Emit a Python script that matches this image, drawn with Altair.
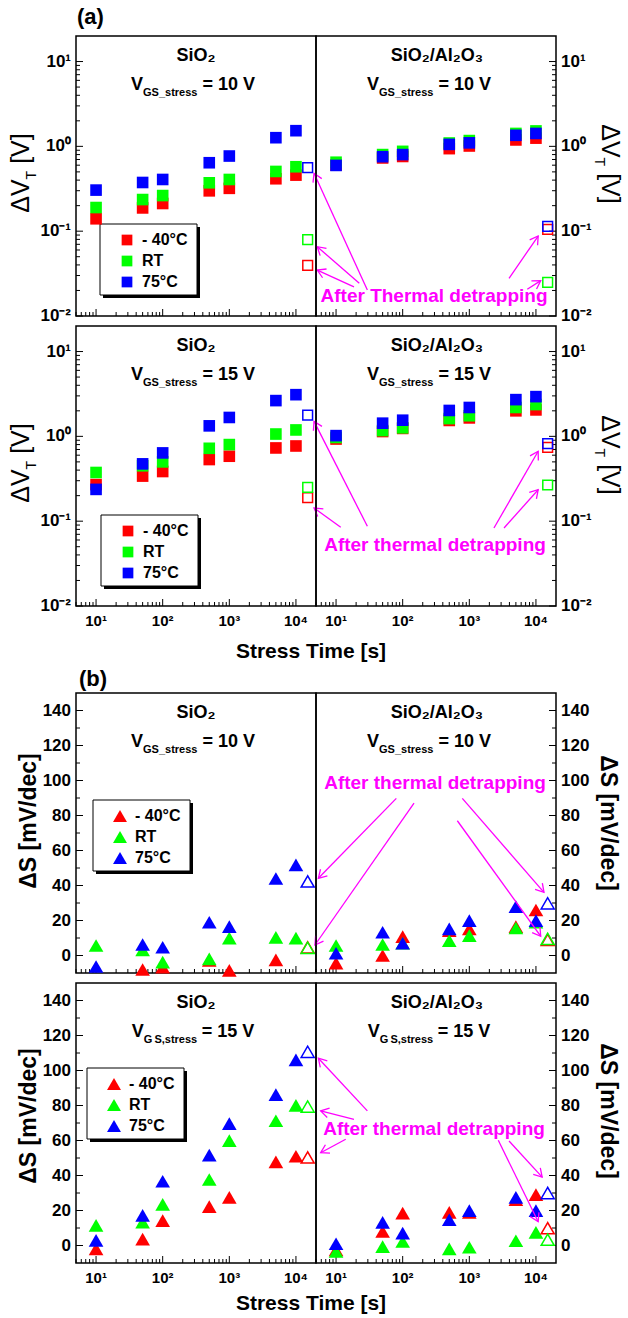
import math
import altair as alt
import pandas as pd

FONT = "Liberation Sans"
MAGENTA = "#FF00FF"

TEMPS = ["- 40°C", "RT", "75°C"]
COLORS = ["#FF0000", "#00FF00", "#0000FF"]
TIMES = [10, 50, 100, 500, 1000, 5000, 10000]
T_AFTER = 15000

# ---- (a) delta VT [V] ----
dvt_sio2_10_m40 = [0.14, 0.188, 0.212, 0.299, 0.32, 0.415, 0.458]
dvt_sio2_10_rt = [0.19, 0.236, 0.263, 0.372, 0.407, 0.506, 0.575]
dvt_sio2_10_75 = [0.305, 0.375, 0.407, 0.641, 0.769, 1.265, 1.53]
dvt_sio2_10_after = [0.0395, 0.0795, 0.56]

dvt_al_10_m40 = [0.6, 0.73, 0.76, 0.94, 1.01, 1.19, 1.25]
dvt_al_10_rt = [0.65, 0.80, 0.873, 1.095, 1.17, 1.42, 1.52]
dvt_al_10_75 = [0.596, 0.755, 0.80, 1.055, 1.10, 1.35, 1.42]
dvt_al_10_after = [0.105, 0.0249, 0.114]

dvt_sio2_15_m40 = [0.27, 0.34, 0.385, 0.533, 0.583, 0.73, 0.77]
dvt_sio2_15_rt = [0.375, 0.45, 0.50, 0.723, 0.80, 1.065, 1.19]
dvt_sio2_15_75 = [0.237, 0.474, 0.638, 1.33, 1.67, 2.64, 3.1]
dvt_sio2_15_after = [0.19, 0.25, 1.78]

dvt_al_15_m40 = [0.93, 1.14, 1.24, 1.54, 1.65, 2.0, 2.05]
dvt_al_15_rt = [0.97, 1.17, 1.26, 1.62, 1.75, 2.19, 2.37]
dvt_al_15_75 = [1.02, 1.43, 1.55, 2.02, 2.19, 2.71, 2.94]
dvt_al_15_after = [0.74, 0.267, 0.82]

# ---- (b) delta S [mV/dec] ----
ds_sio2_10_m40 = [None, -8, -6.6, -2.8, -8.5, -2.5, None]
ds_sio2_10_rt = [5.7, 3.2, -3.8, -1.9, 9.9, 10.4, 9.9]
ds_sio2_10_75 = [-6.3, 6.3, 4.7, 19, 16.5, 44, 51.8]
ds_sio2_10_after = [4.7, 4.4, 42.3]

ds_al_10_m40 = [-4.4, 0, 10.8, 14.2, 15.2, 16.5, 26]
ds_al_10_rt = [5.7, 6.3, 7.0, 8.5, 11.4, 15.7, 19]
ds_al_10_75 = [1.3, 13.3, 7.0, 15.2, 19.9, 27.9, 19.9]
ds_al_10_after = [8.9, 9.5, 29.8]

ds_sio2_15_m40 = [-1.9, 3.6, 14.2, 22.2, 27.5, 47.8, 51]
ds_sio2_15_rt = [11.5, 13.4, 23.5, 37.7, 59.9, 71.3, 80.1]
ds_sio2_15_75 = [2.9, 17.2, 36.7, 51.6, 69.6, 86.2, 106.1]
ds_sio2_15_after = [50.3, 79.4, 110.7]

ds_al_15_m40 = [-2.5, 8, 18.5, 18.9, 18.9, 26.2, 29.1]
ds_al_15_rt = [-3.4, -0.6, 2.3, -1.9, -1, 2.7, 7.5]
ds_al_15_75 = [1, 13.2, 7.1, 14.7, 19.9, 27.5, 19.9]
ds_al_15_after = [9.9, 3.3, 30]

# annotation arrows (tail x, tail y, head x, head y) in each panel's data units
arrows_a1_left = [(1.18e5, 0.0202, 1.87e4, 0.481), (8.93e4, 0.0243, 2.09e4, 0.0656), (7.43e4, 0.0221, 2.09e4, 0.0348)]
arrows_a1_right = [(3945, 0.0278, 1.08e4, 0.0877), (7413, 0.0207, 1.18e4, 0.0261)]
arrows_a2_left = [(1.18e5, 0.0871, 1.87e4, 1.50), (4.7e4, 0.0847, 1.87e4, 0.143)]
arrows_a2_right = [(2344, 0.083, 1.08e4, 0.667), (3319, 0.083, 1.08e4, 0.235)]
arrows_b1_left = [(3.21e5, 89.8, 2.17e4, 44.1), (5.92e5, 87.1, 1.93e4, 6.0)]
arrows_b1_right = [(785, 89.8, 1.32e4, 36.1), (661, 77, 1.18e4, 11)]
arrows_b2_left = [(1.18e5, 76.9, 2.17e4, 107), (7.43e4, 72.1, 2.35e4, 76.9), (5.58e4, 60.7, 2.35e4, 53)]
arrows_b2_right = [(3945, 59.7, 1.24e4, 39.1), (2722, 60.1, 1.08e4, 13.6)]

# axis ticks and tick labels
X_MAJ = [10, 100, 1000, 10000]
X_MAJ_LABELS = ["10¹", "10²", "10³", "10⁴"]
X_MIN = [5, 6, 7, 8, 9] + [k * 10 ** e for e in (1, 2, 3) for k in range(2, 10)]
YLOG_MAJ = [0.01, 0.1, 1, 10]
YLOG_MAJ_LABELS = ["10⁻²", "10⁻¹", "10⁰", "10¹"]
YLOG_MIN = [round(k * 10 ** e, 6) for e in (-2, -1, 0) for k in range(2, 10)]
YLIN_MAJ = list(range(0, 141, 20))
YLIN_MAJ_LABELS = [str(v) for v in YLIN_MAJ]
YLIN_MIN = list(range(10, 131, 20))

W, H = 240, 280
X_DOM = [5, 20000]
YLOG_DOM = [0.01, 20]
YLIN_DOM = [-10, 150]

X_SCALE = alt.Scale(type="log", domain=X_DOM, nice=False)
Y_LOG = alt.Scale(type="log", domain=YLOG_DOM, nice=False)
Y_LIN = alt.Scale(type="linear", domain=YLIN_DOM, nice=False, zero=False)
COLOR_SCALE = alt.Scale(domain=TEMPS, range=COLORS)


def px_x(v):
    return (math.log10(v) - math.log10(X_DOM[0])) / (math.log10(X_DOM[1]) - math.log10(X_DOM[0])) * W


def py_log(v):
    return (math.log10(YLOG_DOM[1]) - math.log10(v)) / (math.log10(YLOG_DOM[1]) - math.log10(YLOG_DOM[0])) * H


def py_lin(v):
    return (YLIN_DOM[1] - v) / (YLIN_DOM[1] - YLIN_DOM[0]) * H


ONE = pd.DataFrame({"k": [0]})

BOLD_W = {" ": 278, "=": 584, "V": 667, "G": 778, "S": 667, "_": 556, "s": 556,
          "t": 333, "r": 389, "e": 556, ",": 278, "\u2009": 167}
REG_W = {"Δ": 667, "V": 667, "T": 611, " ": 278, "[": 278, "]": 278}


def wb(s, size):
    return sum(BOLD_W.get(c, 556) for c in s) / 1000 * size


def wr(s, size):
    return sum(REG_W.get(c, 556) for c in s) / 1000 * size


def txt(s, x, y, size, weight="bold", color="black", align="left", angle=0, baseline="alphabetic"):
    return alt.Chart(ONE).mark_text(text=s, font=FONT, fontSize=size, fontWeight=weight, color=color,
                                    align=align, baseline=baseline, angle=angle).encode(
        x=alt.value(x), y=alt.value(y))


def vgs(cx, base, sub, val):
    gap = 5
    w1, w2, w3 = wb("V", 18), wb(sub, 11), wb(val, 18)
    x0 = cx - (w1 + w2 + gap + w3) / 2
    return [txt("V", x0, base, 18), txt(sub, x0 + w1, base + 6, 11),
            txt(val, x0 + w1 + w2 + gap, base, 18)]


def dvt_title(bx, cy, side):
    pieces = [("ΔV", 25, 0, 0), ("T", 14, 7, 7), ("[V]", 25, 0, 0)]
    widths = [wr(s, f) + g for s, f, _, g in pieces]
    total = sum(widths)
    out = []
    cum = 0
    for (s, f, sh, g), w in zip(pieces, widths):
        if side == "left":
            out.append(txt(s, bx + sh, cy + total / 2 - cum, f, weight="normal", angle=270))
        else:
            out.append(txt(s, bx - sh, cy - total / 2 + cum, f, weight="normal", angle=90))
        cum += w
    return out


def ds_title(bx, cy, side):
    return [txt("ΔS [mV/dec]", bx, cy, 23, align="center", angle=270 if side == "left" else 90)]


def series_df(m40, rt, t75):
    rows = []
    for temp, vals in zip(TEMPS, [m40, rt, t75]):
        for t, v in zip(TIMES, vals):
            if v is not None:
                rows.append({"t": t, "v": v, "temp": temp})
    return pd.DataFrame(rows)


def after_df(vals):
    return pd.DataFrame({"t": [T_AFTER] * 3, "v": vals, "temp": TEMPS})


CHEVRON = "M-2,-1.2L0,0L-2,1.2"


def arrow_layers(arrows, kind):
    py = py_log if kind == "a" else py_lin
    yscale = Y_LOG if kind == "a" else Y_LIN
    rows = []
    for x1, y1, x2, y2 in arrows:
        ang = math.degrees(math.atan2(py(y2) - py(y1), px_x(x2) - px_x(x1))) % 360
        rows.append({"x1": x1, "y1": y1, "x2": x2, "y2": y2, "ang": ang})
    df = pd.DataFrame(rows)
    base = alt.Chart(df)
    line = base.mark_rule(color=MAGENTA, strokeWidth=1.3).encode(
        x=alt.X("x1:Q", scale=X_SCALE, axis=None), y=alt.Y("y1:Q", scale=yscale, axis=None),
        x2="x2:Q", y2="y2:Q")
    head = base.mark_point(shape=CHEVRON, filled=False, color=MAGENTA, strokeWidth=1.3, size=64,
                           opacity=1).encode(
        x=alt.X("x2:Q", scale=X_SCALE, axis=None), y=alt.Y("y2:Q", scale=yscale, axis=None),
        angle=alt.Angle("ang:Q", scale=None))
    return [line, head]


def tick_layers(kind, side, xlabels):
    yscale = Y_LOG if kind == "a" else Y_LIN
    if kind == "a":
        ymaj, ymin, ylab = YLOG_MAJ, YLOG_MIN, YLOG_MAJ_LABELS
    else:
        ymaj, ymin, ylab = YLIN_MAJ, YLIN_MIN, YLIN_MAJ_LABELS
    out = []
    for vals, ln in ((X_MAJ, 7), (X_MIN, 4)):
        out.append(alt.Chart(pd.DataFrame({"tv": vals})).mark_rule(color="black", strokeWidth=1).encode(
            x=alt.X("tv:Q", scale=X_SCALE, axis=None), y=alt.value(H), y2=alt.value(H - ln)))
    for vals, ln in ((ymaj, 7), (ymin, 4)):
        if side == "left":
            xa, xb = 0, ln
        else:
            xa, xb = W, W - ln
        out.append(alt.Chart(pd.DataFrame({"tv": vals})).mark_rule(color="black", strokeWidth=1).encode(
            y=alt.Y("tv:Q", scale=yscale, axis=None), x=alt.value(xa), x2=alt.value(xb)))
    # tick labels drawn through the scales
    out.append(alt.Chart(pd.DataFrame({"tv": ymaj, "lab": ylab})).mark_text(
        font=FONT, fontSize=17, fontWeight="bold", color="black",
        align="right" if side == "left" else "left", baseline="middle").encode(
        y=alt.Y("tv:Q", scale=yscale, axis=None),
        x=alt.value(-5 if side == "left" else W + 5), text="lab:N"))
    if xlabels:
        out.append(alt.Chart(pd.DataFrame({"tv": X_MAJ, "lab": X_MAJ_LABELS})).mark_text(
            font=FONT, fontSize=15, fontWeight="bold", color="black", align="center", baseline="top").encode(
            x=alt.X("tv:Q", scale=X_SCALE, axis=None), y=alt.value(H + 8), text="lab:N"))
    return out


def panel(side, kind, series, after, arrows, texts, legend_box=None, xlabels=False):
    yscale = Y_LOG if kind == "a" else Y_LIN
    shape = "square" if kind == "a" else "triangle-up"
    fsize, osize = (135, 95) if kind == "a" else (215, 170)
    layers = tick_layers(kind, side, xlabels)
    legend = None
    if legend_box is not None:
        bx, by = legend_box
        bw, bh = 97, 71
        layers.append(alt.Chart(ONE).mark_rect(color="black").encode(
            x=alt.value(bx + 3), x2=alt.value(bx + 3 + bw), y=alt.value(by + 3), y2=alt.value(by + 3 + bh)))
        layers.append(alt.Chart(ONE).mark_rect(fill="white", stroke="black", strokeWidth=1).encode(
            x=alt.value(bx), x2=alt.value(bx + bw), y=alt.value(by), y2=alt.value(by + bh)))
        legend = alt.Legend(orient="none", legendX=bx, legendY=by, title=None, symbolType=shape,
                            symbolSize=fsize - 20, padding=8, symbolOffset=11, labelOffset=7,
                            rowPadding=5, labelFont=FONT, labelFontSize=16, labelFontWeight="bold",
                            labelColor="black", symbolStrokeWidth=0, symbolOpacity=1)
    pts = alt.Chart(series_df(*series)).mark_point(shape=shape, filled=True, size=fsize, opacity=1).encode(
        x=alt.X("t:Q", scale=X_SCALE, axis=None),
        y=alt.Y("v:Q", scale=yscale, axis=None),
        color=alt.Color("temp:N", scale=COLOR_SCALE, legend=legend))
    opn = alt.Chart(after_df(after)).mark_point(shape=shape, filled=False, size=osize, strokeWidth=1.5,
                                                opacity=1).encode(
        x=alt.X("t:Q", scale=X_SCALE, axis=None),
        y=alt.Y("v:Q", scale=yscale, axis=None),
        stroke=alt.Stroke("temp:N", scale=COLOR_SCALE, legend=None))
    layers += [pts, opn]
    layers += arrow_layers(arrows, kind)
    layers += texts
    return alt.layer(*layers).properties(width=W, height=H)


def heads(side, volt, sub):
    if side == "left":
        return [txt("SiO₂", 120, 25, 18, align="center")] + vgs(117, 54, sub, "= %d V" % volt)
    return [txt("SiO₂/Al₂O₃", 121, 25, 18, align="center")] + vgs(113, 54, sub, "= %d V" % volt)


# ---- row (a) top ----
a1l = panel("left", "a", (dvt_sio2_10_m40, dvt_sio2_10_rt, dvt_sio2_10_75), dvt_sio2_10_after,
            arrows_a1_left,
            heads("left", 10, "GS_stress") + dvt_title(-47, 137, "left") + [txt("(a)", 1, -12, 22)],
            legend_box=(24, 188))
a1r = panel("right", "a", (dvt_al_10_m40, dvt_al_10_rt, dvt_al_10_75), dvt_al_10_after,
            arrows_a1_right,
            heads("right", 10, "GS_stress") + dvt_title(286, 128, "right")
            + [txt("After Thermal detrapping", 118, 266, 19, color=MAGENTA, align="center")])

# ---- row (a) bottom ----
a2l = panel("left", "a", (dvt_sio2_15_m40, dvt_sio2_15_rt, dvt_sio2_15_75), dvt_sio2_15_after,
            arrows_a2_left,
            heads("left", 15, "GS_stress") + dvt_title(-47, 137, "left")
            + [txt("Stress Time [s]", 235, 332, 21, align="center")],
            legend_box=(25, 189), xlabels=True)
a2r = panel("right", "a", (dvt_al_15_m40, dvt_al_15_rt, dvt_al_15_75), dvt_al_15_after,
            arrows_a2_right,
            heads("right", 15, "GS_stress") + dvt_title(286, 129, "right")
            + [txt("After thermal detrapping", 119, 225, 19, color=MAGENTA, align="center")],
            xlabels=True)

# ---- row (b) top ----
b1l = panel("left", "b", (ds_sio2_10_m40, ds_sio2_10_rt, ds_sio2_10_75), ds_sio2_10_after,
            arrows_b1_left,
            heads("left", 10, "GS_stress") + ds_title(-40, 128, "left") + [txt("(b)", 3, -7, 22)],
            legend_box=(17, 107))
b1r = panel("right", "b", (ds_al_10_m40, ds_al_10_rt, ds_al_10_75), ds_al_10_after,
            arrows_b1_right,
            heads("right", 10, "GS_stress") + ds_title(285, 130, "right")
            + [txt("After thermal detrapping", 119, 96, 19, color=MAGENTA, align="center")])

# ---- row (b) bottom ----
b2l = panel("left", "b", (ds_sio2_15_m40, ds_sio2_15_rt, ds_sio2_15_75), ds_sio2_15_after,
            arrows_b2_left,
            heads("left", 15, "G\u2009S,stress") + ds_title(-40, 133, "left")
            + [txt("Stress Time [s]", 235, 327, 21, align="center")],
            legend_box=(11, 85), xlabels=True)
b2r = panel("right", "b", (ds_al_15_m40, ds_al_15_rt, ds_al_15_75), ds_al_15_after,
            arrows_b2_right,
            heads("right", 15, "G\u2009S,stress") + ds_title(285, 128, "right")
            + [txt("After thermal detrapping", 118, 152, 19, color=MAGENTA, align="center")],
            xlabels=True)


def spacer():
    return alt.Chart(ONE).mark_point(opacity=0).encode(x=alt.value(0), y=alt.value(0)).properties(
        width=W, height=67, view=alt.ViewBackground(strokeOpacity=0))


chart = alt.concat(a1l, a1r, a2l, a2r, spacer(), spacer(), b1l, b1r, b2l, b2r,
                   columns=2, spacing={"row": 10, "column": 0}, bounds="flush").resolve_scale(
    color="independent", stroke="independent").properties(
    padding={"left": 8, "top": 5, "right": 5, "bottom": 5}, background="white"
).configure(font=FONT).configure_view(stroke="black", strokeWidth=1.5)

chart.save("out.html", embed_options={"renderer": "svg", "actions": False})
